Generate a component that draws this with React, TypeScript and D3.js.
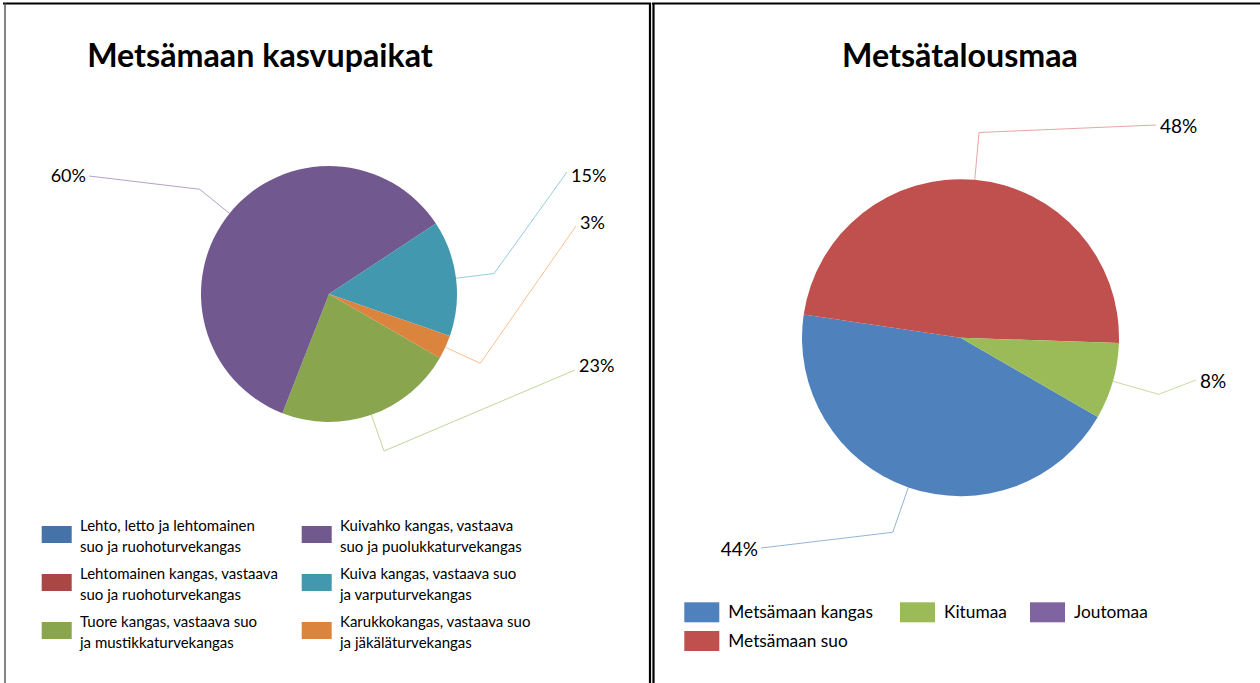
import React from 'react';
import * as d3 from 'd3';

// ---------- Data ----------
const leftTitle = 'Metsämaan kasvupaikat';
const leftLegendLines: string[][] = [
  ['Lehto, letto ja lehtomainen', 'suo ja ruohoturvekangas'],
  ['Lehtomainen kangas, vastaava', 'suo ja ruohoturvekangas'],
  ['Tuore kangas, vastaava suo', 'ja mustikkaturvekangas'],
  ['Kuivahko kangas, vastaava', 'suo ja puolukkaturvekangas'],
  ['Kuiva kangas, vastaava suo', 'ja varputurvekangas'],
  ['Karukkokangas, vastaava suo', 'ja jäkäläturvekangas'],
];
const leftValues = [0, 0, 22.6, 59.8, 14.6, 3.0];
const leftColors = ['#4572A7', '#AA4643', '#89A54E', '#71588F', '#4198AF', '#DB843D'];
const leftLeaderColors = ['#8FAADC', '#D99694', '#C3D69B', '#B3A2C7', '#93CDDD', '#FAC090'];

const rightTitle = 'Metsätalousmaa';
const rightCategories = ['Metsämaan kangas', 'Metsämaan suo', 'Kitumaa', 'Joutomaa'];
const rightValues = [44.0, 48.2, 7.8, 0];
const rightColors = ['#4F81BD', '#C0504D', '#9BBB59', '#8064A2'];
const rightLeaderColors = ['#95B3D7', '#E6A6A4', '#C9DBA0', '#B3A2C7'];

// ---------- Layout ----------
const W = 1260;
const H = 683;
const FONT = 'Lato, "Open Sans", sans-serif';

const leftPie = { cx: 329, cy: 294, r: 128, start: 120 };
const rightPie = { cx: 960.5, cy: 337.7, r: 158.5, start: 120 };

// label placement per slice index: x,y = text anchor point (y = vertical centre), dy = leader end offset
const leftLabelPos: Record<number, { x: number; y: number; anchor: 'start' | 'end'; dy: number }> = {
  2: { x: 579, y: 365, anchor: 'start', dy: 5 },
  3: { x: 86, y: 175, anchor: 'end', dy: 1 },
  4: { x: 571, y: 175, anchor: 'start', dy: -3 },
  5: { x: 580, y: 222, anchor: 'start', dy: 4 },
};
const rightLabelPos: Record<number, { x: number; y: number; anchor: 'start' | 'end'; dy: number }> = {
  0: { x: 758, y: 548, anchor: 'end', dy: 0 },
  1: { x: 1160, y: 125, anchor: 'start', dy: 0 },
  2: { x: 1200, y: 380, anchor: 'start', dy: 0 },
};

type PieCfg = { cx: number; cy: number; r: number; start: number };

function PieChart({
  cfg, values, colors, leaderColors, labelPos, fontSize,
}: {
  cfg: PieCfg; values: number[]; colors: string[]; leaderColors: string[];
  labelPos: Record<number, { x: number; y: number; anchor: 'start' | 'end'; dy: number }>;
  fontSize: number;
}) {
  const a0 = (cfg.start * Math.PI) / 180;
  const pie = d3.pie<number>().sort(null).value((d) => d).startAngle(a0).endAngle(a0 + 2 * Math.PI);
  const arcs = pie(values);
  const arc = d3.arc<d3.PieArcDatum<number>>().innerRadius(0).outerRadius(cfg.r);
  const total = d3.sum(values);
  return (
    <g>
      <g transform={`translate(${cfg.cx},${cfg.cy})`}>
        {arcs.map((a, i) =>
          a.value > 0 ? <path key={i} d={arc(a) || ''} fill={colors[i]} /> : null
        )}
      </g>
      {arcs.map((a, i) => {
        if (a.value <= 0 || !labelPos[i]) return null;
        const mid = (a.startAngle + a.endAngle) / 2;
        const sx = cfg.cx + cfg.r * Math.sin(mid);
        const sy = cfg.cy - cfg.r * Math.cos(mid);
        const ext = cfg.r * 0.3;
        const ex = sx + ext * Math.sin(mid);
        const ey = sy - ext * Math.cos(mid);
        const lp = labelPos[i];
        const lx = lp.anchor === 'start' ? lp.x - 4 : lp.x + 3;
        const ly = lp.y + lp.dy;
        const pct = Math.round((a.value / total) * 100);
        return (
          <g key={i}>
            <polyline
              points={`${sx},${sy} ${ex},${ey} ${lx},${ly}`}
              fill="none"
              stroke={leaderColors[i]}
              strokeWidth={1}
            />
            <text
              x={lp.x}
              y={lp.y}
              textAnchor={lp.anchor}
              dominantBaseline="central"
              fontFamily={FONT}
              fontSize={fontSize}
              fill="#000"
            >
              {pct}%
            </text>
          </g>
        );
      })}
    </g>
  );
}

export default function App() {
  const leftLegendCols = [41.7, 301.7];
  const leftLegendRows = [526, 574, 622];
  const rightLegendPos = [
    { x: 684.3, y: 602.3 },
    { x: 684.3, y: 631 },
    { x: 900, y: 602.3 },
    { x: 1030, y: 602.3 },
  ];
  return (
    <svg
      width={W}
      height={H}
      viewBox={`0 0 ${W} ${H}`}
      style={{ position: 'absolute', left: 0, top: 0, background: '#fff' }}
    >
      <rect x={0} y={0} width={W} height={H} fill="#fff" />
      {/* panel borders */}
      <line x1={3} y1={3.5} x2={651} y2={3.5} stroke="#000" strokeWidth={2} />
      <line x1={5} y1={3} x2={5} y2={H} stroke="#444" strokeWidth={1.3} />
      <line x1={650} y1={3} x2={650} y2={H} stroke="#000" strokeWidth={2.2} />
      <line x1={652} y1={3.5} x2={W} y2={3.5} stroke="#000" strokeWidth={2} />
      <line x1={653.5} y1={3} x2={653.5} y2={H} stroke="#000" strokeWidth={2.2} />

      {/* titles */}
      <text x={260} y={66.5} textAnchor="middle" fontFamily={FONT} fontWeight={700} fontSize={32.2}>
        {leftTitle}
      </text>
      <text x={960} y={66.5} textAnchor="middle" fontFamily={FONT} fontWeight={700} fontSize={32.2}>
        {rightTitle}
      </text>

      <PieChart
        cfg={leftPie}
        values={leftValues}
        colors={leftColors}
        leaderColors={leftLeaderColors}
        labelPos={leftLabelPos}
        fontSize={18}
      />
      <PieChart
        cfg={rightPie}
        values={rightValues}
        colors={rightColors}
        leaderColors={rightLeaderColors}
        labelPos={rightLabelPos}
        fontSize={19}
      />

      {/* left legend */}
      {leftLegendLines.map((lines, i) => {
        const col = Math.floor(i / 3);
        const row = i % 3;
        const x = leftLegendCols[col];
        const y = leftLegendRows[row];
        return (
          <g key={i}>
            <rect x={x} y={y} width={30} height={17} fill={leftColors[i]} />
            {lines.map((t, j) => (
              <text
                key={j}
                x={x + 38.3}
                y={y + 4.7 + j * 21.6}
                fontFamily={FONT}
                fontSize={15}
                fill="#000"
              >
                {t}
              </text>
            ))}
          </g>
        );
      })}

      {/* right legend */}
      {rightCategories.map((c, i) => {
        const p = rightLegendPos[i];
        return (
          <g key={i}>
            <rect x={p.x} y={p.y} width={35} height={20} fill={rightColors[i]} />
            <text x={p.x + 44} y={p.y + 16} fontFamily={FONT} fontSize={17.3} fill="#000">
              {c}
            </text>
          </g>
        );
      })}
    </svg>
  );
}
